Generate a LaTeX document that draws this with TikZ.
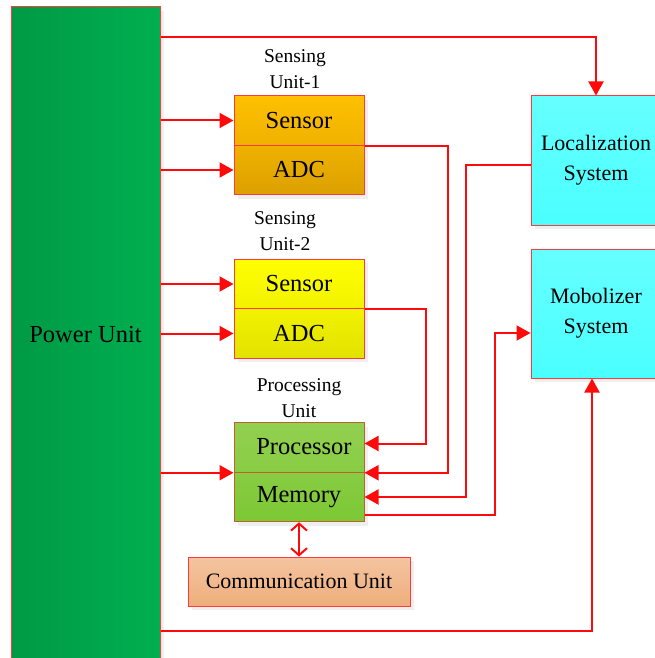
\documentclass[tikz,border=0pt]{standalone}
\usepackage{fontspec}
\setmainfont{Liberation Serif}
\usetikzlibrary{arrows.meta,shadows}
\definecolor{linered}{HTML}{FF0A0A}
\definecolor{boxred}{HTML}{FF3A3A}
\definecolor{rimbrown}{HTML}{C0602A}
\definecolor{puL}{HTML}{009A44}
\definecolor{puR}{HTML}{00AF50}
\definecolor{orT}{HTML}{FFC000}
\definecolor{orB}{HTML}{DCA000}
\definecolor{yeT}{HTML}{FFFF00}
\definecolor{yeB}{HTML}{E2E200}
\definecolor{grT}{HTML}{92D050}
\definecolor{grB}{HTML}{7CC834}
\definecolor{cyT}{HTML}{66FFFF}
\definecolor{cyB}{HTML}{4AFFFF}
\definecolor{coT}{HTML}{F4C4A0}
\definecolor{coB}{HTML}{EEAE7C}
\begin{document}
\begin{tikzpicture}[x=1pt,y=-1pt,
  block/.style={draw=boxred, line width=1pt, minimum width=130pt, minimum height=49.5pt,
    inner sep=0pt, font=\fontsize{24.5}{28}\selectfont,
    drop shadow={shadow xshift=4pt, shadow yshift=-4pt, fill=black!12}},
  sysbox/.style={block, minimum height=129pt, align=center,
    font=\fontsize{22}{30}\selectfont, top color=cyT, bottom color=cyB},
  tag/.style={align=center, font=\fontsize{19.5}{26}\selectfont},
  wire/.style={draw=linered, line width=2pt},
  arr/.style={wire, -{Triangle[length=14pt,width=15pt]}},
  dbl/.style={wire, {Straight Barb[length=7pt,width=16pt,line width=2pt]}-{Straight Barb[length=7pt,width=16pt,line width=2pt]}}
]
\useasboundingbox (0,0) rectangle (654,658);

% power supply column (runs past the lower edge)
\node[block, minimum width=149pt, minimum height=660pt, left color=puL, right color=puR]
  (pu) at (85.5,337) {\raisebox{5pt}{Power Unit}};

% sensing unit 1
\node[block, top color=orT, bottom color=orT!55!orB] (s1) at (299,120.5) {Sensor};
\node[block, top color=orT!55!orB, bottom color=orB] (a1) at (299,170) {ADC};
\node[tag] (t1) at (295,69) {Sensing\\Unit-1};

% sensing unit 2
\node[block, top color=yeT, bottom color=yeT!55!yeB] (s2) at (299,284) {Sensor};
\node[block, top color=yeT!55!yeB, bottom color=yeB] (a2) at (299,333.5) {ADC};
\node[tag] (t2) at (285,231) {Sensing\\Unit-2};

% processing unit
\node[block, draw=rimbrown, top color=grT, bottom color=grT!55!grB] (pr) at (299,447.5)
  {\hspace*{10pt}\raisebox{3pt}{Processor}};
\node[block, draw=rimbrown, top color=grT!55!grB, bottom color=grB] (me) at (299,497)
  {\raisebox{2pt}{Memory}};
\node[tag] (t3) at (299,398) {Processing\\Unit};

% communication unit
\node[block, minimum width=222pt, minimum height=49pt, top color=coT, bottom color=coB,
  font=\fontsize{22}{26}\selectfont] (cu) at (299,581.5) {Communication Unit};

% localization and mobilizer systems
\node[sysbox] (lo) at (596,160.5) {Localization\\System};
\node[sysbox] (mo) at (596,313.5) {Mobolizer\\System};

% power feeds
\draw[arr] (pu.east |- 0,37) -| (lo.north);
\draw[arr] (pu.east |- s1.west) -- (s1.west);
\draw[arr] (pu.east |- a1.west) -- (a1.west);
\draw[arr] (pu.east |- s2.west) -- (s2.west);
\draw[arr] (pu.east |- a2.west) -- (a2.west);
\draw[arr] (pu.east |- pr.south west) -- (pr.south west);
\draw[arr] (pu.east |- 0,631) -| ([xshift=-4pt]mo.south);

% data paths into the processing unit
\draw[arr] (s2.south east) -- ++(61,0) |- ([yshift=4pt]pr.east);
\draw[arr] (s1.south east) -- ++(83,0) |- (pr.south east);
\draw[arr] ([yshift=-4.5pt]lo.west) -- ++(-65,0) |- (me.east);
\draw[arr] ([yshift=7pt]me.south east) -- ++(130,0) |- ([yshift=-19.5pt]mo.west);

% memory <-> communication
\draw[dbl] (me.south) -- (cu.north);
\end{tikzpicture}
\end{document}
